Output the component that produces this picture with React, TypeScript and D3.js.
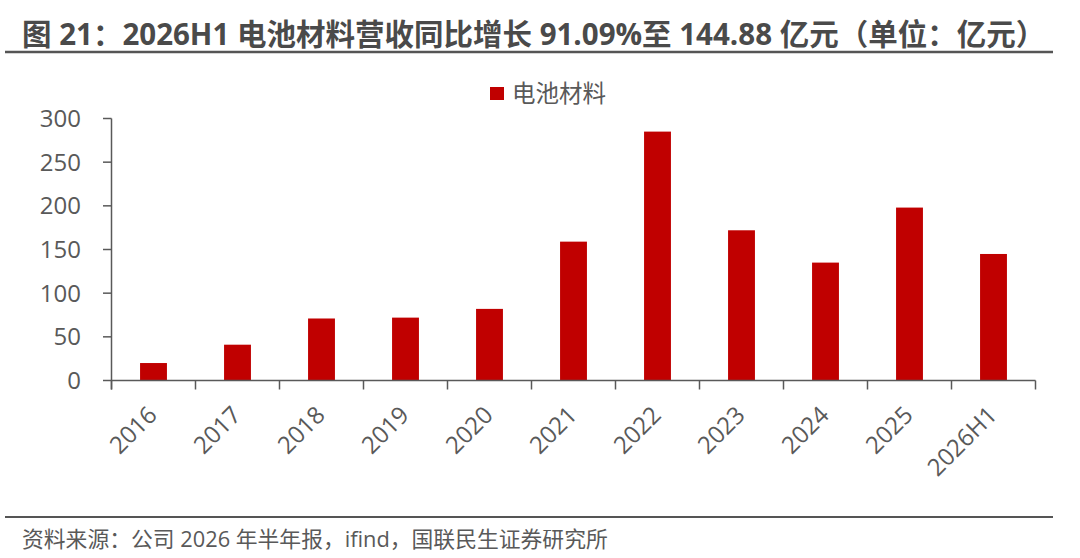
import React from 'react';
import * as d3 from 'd3';

// Battery materials revenue, 100M CNY
const categories = ['2016', '2017', '2018', '2019', '2020', '2021', '2022', '2023', '2024', '2025', '2026H1'];
const revenue = [20, 41, 71, 72, 82, 159, 285, 172, 135, 198, 144.88];
const yTicks = [0, 50, 100, 150, 200, 250, 300];
const seriesName = '电池材料';
const titleText = '图 21：2026H1 电池材料营收同比增长 91.09%至 144.88 亿元（单位：亿元）';
const sourceText = '资料来源：公司 2026 年半年报，ifind，国联民生证券研究所';

const W = 1080;
const H = 558;
const FONT = '"Open Sans", "Noto Sans CJK SC", sans-serif';
const BAR = '#c00000';
const AXIS = '#595959';
const TEXT = '#595959';

const App: React.FC = () => {
  const x = d3.scaleBand<string>()
    .domain(categories)
    .range([111.5, 1035.5])
    .paddingInner(0.68)
    .paddingOuter(0.34);

  const y = d3.scaleLinear().domain([0, 300]).range([380.5, 118.5]);

  const step = x.step();
  const gap = (step - x.bandwidth()) / 2;
  const bounds = categories.map(c => (x(c) ?? 0) - gap);
  bounds.push(x.range()[1]);

  return (
    <svg width={W} height={H} style={{ position: 'absolute', left: 0, top: 0, background: '#fff' }} fontFamily={FONT}>
      {/* title */}
      <text x={22} y={44.5} fontSize={29.5} fontWeight="bold" fill="#4a4a4a">{titleText}</text>
      <line x1={5} x2={1053} y1={52} y2={52} stroke="#555" strokeWidth={2.5} />

      {/* legend */}
      <rect x={490} y={87} width={14} height={13} fill={BAR} />
      <text x={512} y={102} fontSize={23.5} fill={TEXT}>{seriesName}</text>

      {/* bars */}
      {categories.map((c, i) => (
        <rect
          key={c}
          x={x(c)}
          y={y(revenue[i])}
          width={x.bandwidth()}
          height={y(0) - y(revenue[i])}
          fill={BAR}
        />
      ))}

      {/* y axis */}
      <line x1={111.5} x2={111.5} y1={y(300)} y2={y(0) + 9} stroke={AXIS} strokeWidth={1.5} />
      {yTicks.map(t => (
        <g key={t}>
          <line x1={103} x2={111.5} y1={y(t)} y2={y(t)} stroke={AXIS} strokeWidth={1.5} />
          <text x={81} y={y(t)} dy="0.36em" textAnchor="end" fontSize={24} fill={TEXT}>{t}</text>
        </g>
      ))}

      {/* x axis */}
      <line x1={111.5} x2={x.range()[1]} y1={y(0)} y2={y(0)} stroke={AXIS} strokeWidth={1.5} />
      {bounds.map((b, i) => (
        <line key={i} x1={b} x2={b} y1={y(0)} y2={y(0) + 9} stroke={AXIS} strokeWidth={1.5} />
      ))}
      {categories.map(c => {
        const cx = (x(c) ?? 0) + x.bandwidth() / 2 + 5;
        const cy = y(0) + 36;
        return (
          <text
            key={c}
            transform={`translate(${cx},${cy}) rotate(-45)`}
            textAnchor="end"
            fontSize={24}
            fill={TEXT}
          >
            {c}
          </text>
        );
      })}

      {/* source */}
      <line x1={5} x2={1053} y1={517} y2={517} stroke="#555" strokeWidth={2} />
      <text x={22} y={547} fontSize={21.8} fill={TEXT}>{sourceText}</text>
    </svg>
  );
};

export default App;
